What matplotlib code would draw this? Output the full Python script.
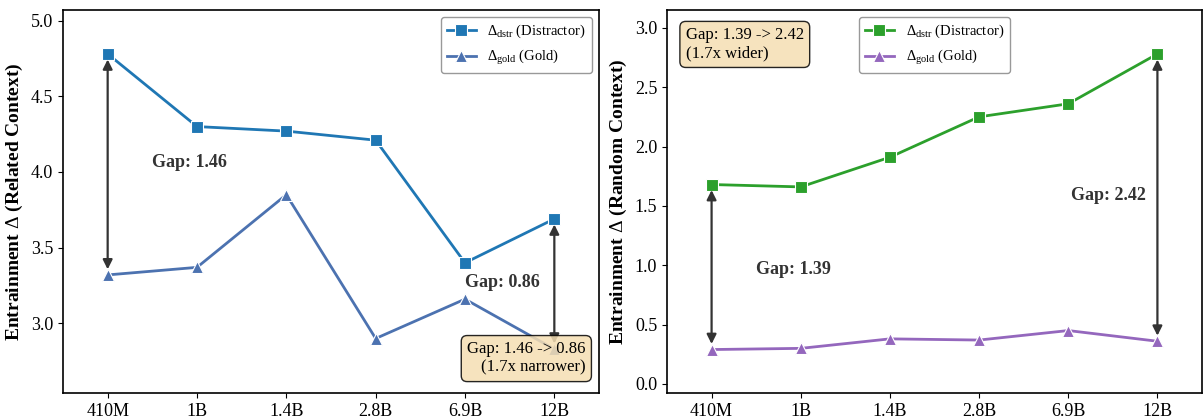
import matplotlib.pyplot as plt

plt.rcParams["font.family"] = ["Liberation Serif", "DejaVu Serif"]
plt.rcParams["mathtext.fontset"] = "custom"
plt.rcParams["mathtext.rm"] = "Liberation Serif"
plt.rcParams["mathtext.it"] = "Liberation Serif:italic"
plt.rcParams["mathtext.bf"] = "Liberation Serif:bold"

models = ["410M", "1B", "1.4B", "2.8B", "6.9B", "12B"]

related_dstr = [4.78, 4.30, 4.27, 4.21, 3.40, 3.69]
related_gold = [3.32, 3.37, 3.85, 2.90, 3.16, 2.83]

random_dstr = [1.68, 1.66, 1.91, 2.25, 2.36, 2.78]
random_gold = [0.29, 0.30, 0.38, 0.37, 0.45, 0.36]


def draw_panel(ax, dstr, gold, c_dstr, c_gold, ylabel, legend_loc):
    x = list(range(len(models)))
    ax.plot(x, dstr, color=c_dstr, lw=2, marker="s", ms=8.5, mec="white", mew=0.8,
            label=r"$\Delta_{\mathrm{dstr}}$ (Distractor)", zorder=3)
    ax.plot(x, gold, color=c_gold, lw=2, marker="^", ms=8.5, mec="white", mew=0.8,
            label=r"$\Delta_{\mathrm{gold}}$ (Gold)", zorder=3)
    ax.set_xticks(x)
    ax.set_xticklabels(models, fontsize=13)
    ax.tick_params(axis="y", labelsize=13)
    ax.set_ylabel(ylabel, fontsize=14, fontweight="bold")
    ax.set_xlim(-0.5, 5.5)
    for s in ax.spines.values():
        s.set_color("black")
        s.set_linewidth(1.2)
    ax.legend(loc=legend_loc, fontsize=10.5, frameon=True, fancybox=True, edgecolor="gray")
    return x


fig = plt.figure(figsize=(12.03, 4.19), dpi=100)
ax1 = fig.add_axes([63 / 1203, 26 / 419, 536 / 1203, 383 / 419])
ax2 = fig.add_axes([667 / 1203, 26 / 419, 535 / 1203, 383 / 419])

arrow = dict(arrowstyle="<|-|>", color="#333333", lw=1.6, mutation_scale=14, shrinkA=4, shrinkB=4)
label_kw = dict(fontsize=13, fontweight="bold", color="#333333")
box_kw = dict(boxstyle="round,pad=0.35", fc="wheat", ec="black", alpha=0.85)

x = draw_panel(ax1, related_dstr, related_gold, "#1f77b4", "#4c72b0",
               r"Entrainment $\Delta$ (Related Context)", "upper right")
ax1.set_ylim(2.54, 5.07)
ax1.set_yticks([3.0, 3.5, 4.0, 4.5, 5.0])

gap_first = related_dstr[0] - related_gold[0]
gap_last = related_dstr[-1] - related_gold[-1]
ax1.annotate("", xy=(x[0], related_dstr[0]), xytext=(x[0], related_gold[0]), arrowprops=arrow)
ax1.annotate("", xy=(x[-1], related_dstr[-1]), xytext=(x[-1], related_gold[-1]), arrowprops=arrow)
ax1.text(0.5, 4.03, f"Gap: {gap_first:.2f}", **label_kw)
ax1.text(4.0, 3.24, f"Gap: {gap_last:.2f}", **label_kw)
ax1.text(0.975, 0.045, f"Gap: {gap_first:.2f} -> {gap_last:.2f}\n(1.7x narrower)",
         transform=ax1.transAxes, ha="right", va="bottom", fontsize=12, multialignment="right",
         bbox=box_kw, zorder=5)

draw_panel(ax2, random_dstr, random_gold, "#2ca02c", "#9467bd",
           r"Entrainment $\Delta$ (Random Context)", "upper center")
ax2.set_ylim(-0.076, 3.15)
ax2.set_yticks([0.0, 0.5, 1.0, 1.5, 2.0, 2.5, 3.0])

gap_first = random_dstr[0] - random_gold[0]
gap_last = random_dstr[-1] - random_gold[-1]
ax2.annotate("", xy=(x[0], random_dstr[0]), xytext=(x[0], random_gold[0]), arrowprops=arrow)
ax2.annotate("", xy=(x[-1], random_dstr[-1]), xytext=(x[-1], random_gold[-1]), arrowprops=arrow)
ax2.text(0.5, 0.93, f"Gap: {gap_first:.2f}", **label_kw)
ax2.text(4.03, 1.55, f"Gap: {gap_last:.2f}", **label_kw)
ax2.text(0.035, 0.955, f"Gap: {gap_first:.2f} -> {gap_last:.2f}\n(1.7x wider)",
         transform=ax2.transAxes, ha="left", va="top", fontsize=12,
         bbox=box_kw, zorder=5)

fig.savefig("out.png", dpi=100)
